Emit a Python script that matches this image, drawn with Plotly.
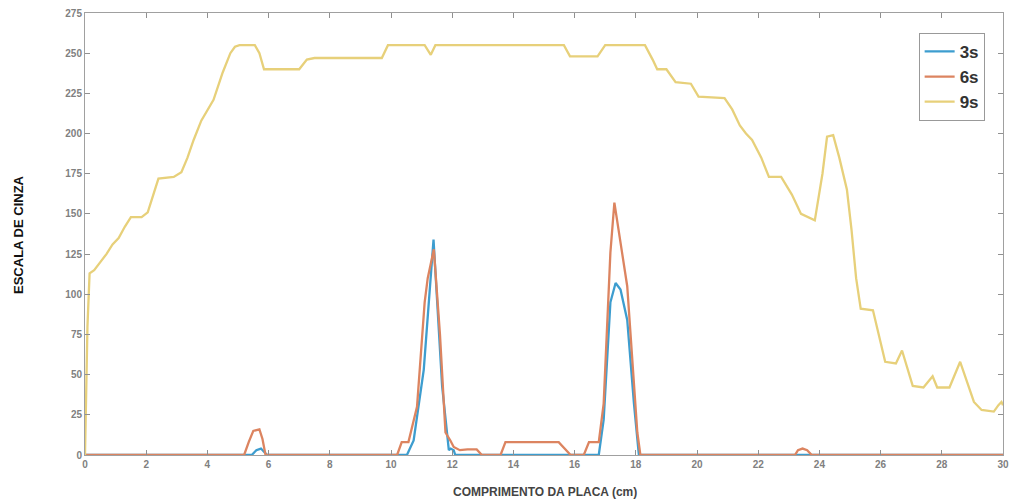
import plotly.graph_objects as go

# ---- data ----
x_3s = [0, 5.45, 5.6, 5.75, 5.85, 5.95, 10.52, 10.74, 11.07, 11.23, 11.39, 11.67, 11.89, 11.95, 12.05, 12.1,
        16.79, 16.95, 17.17, 17.34, 17.5, 17.72, 17.94, 18.1, 30]
y_3s = [0, 0, 3, 4, 2, 0, 0, 9, 53, 95, 134, 43, 3, 4, 3, 0,
        0, 22, 95, 107, 103, 84, 32, 0, 0]

x_6s = [0, 5.2, 5.35, 5.5, 5.7, 5.8, 5.9, 10.2, 10.35, 10.57, 10.85, 11.1, 11.2, 11.4, 11.6, 11.78, 11.94,
        12.05, 12.25, 12.5, 12.8, 12.97, 13.58, 13.74, 15.48, 15.87, 16.3, 16.47, 16.79, 16.95, 17.17, 17.3,
        17.72, 18.05, 18.15, 23.2, 23.3, 23.45, 23.6, 23.75, 30]
y_6s = [0, 0, 8, 15, 16, 10, 0, 0, 8, 8, 30, 95, 110, 128, 75, 14, 9,
        5, 3, 3.5, 3.5, 0, 0, 8, 8, 0, 0, 8, 8, 32, 126, 157,
        105, 14, 0, 0, 3, 4, 3, 0, 0]

x_9s = [0, 0.08, 0.15, 0.3, 0.5, 0.7, 0.9, 1.1, 1.3, 1.5, 1.85, 2.05, 2.2, 2.4, 2.9, 3.15, 3.35, 3.55, 3.8,
        4.05, 4.2, 4.5, 4.75, 4.9, 5.05, 5.55, 5.7, 5.85, 7.0, 7.25, 7.5, 9.7, 9.9, 11.1, 11.3, 11.45,
        15.65, 15.85, 16.75, 17.0, 18.3, 18.55, 18.7, 19.0, 19.3, 19.8, 20.05, 20.9, 21.15, 21.4, 21.6,
        21.8, 22.1, 22.35, 22.75, 23.1, 23.4, 23.85, 24.1, 24.25, 24.45, 24.65, 24.9, 25.05, 25.2, 25.35,
        25.75, 26.15, 26.5, 26.7, 27.05, 27.4, 27.7, 27.85, 28.25, 28.6, 28.9, 29.05, 29.3, 29.7, 29.85,
        29.95, 30]
y_9s = [0, 80, 113, 115, 120, 125, 131, 135, 142, 148, 148, 151, 160, 172, 173, 176, 185, 196, 208,
        216, 221, 238, 250, 254, 255, 255, 250, 240, 240, 246, 247, 247, 255, 255, 249, 255,
        255, 248, 248, 255, 255, 246, 240, 240, 232, 231, 223, 222, 215, 205, 200,
        196, 185, 173, 173, 162, 150, 146, 175, 198, 199, 185, 165, 140, 110, 91,
        90, 58, 57, 65, 43, 42, 49, 42, 42, 58, 42, 33, 28, 27, 31,
        33, 31]

x_ticks = list(range(0, 31, 2))
y_ticks = list(range(0, 276, 25))

series = [("3s", x_3s, y_3s, "#3d9dcf"),
          ("6s", x_6s, y_6s, "#dc8460"),
          ("9s", x_9s, y_9s, "#e7d07a")]

fig = go.Figure()
for name, xs, ys, col in series:
    fig.add_trace(go.Scatter(x=xs, y=ys, mode="lines", name=name,
                             line=dict(color=col, width=2.3)))

axis_common = dict(showline=True, linecolor="#a0a0a0", linewidth=1, mirror="ticks",
                   ticks="inside", ticklen=5, tickcolor="#909090", showgrid=False, zeroline=False,
                   automargin=False, ticklabeloverflow="allow",
                   tickfont=dict(family="Liberation Sans", size=10, color="#808080", weight="bold"))

fig.update_xaxes(range=[0, 30], tickvals=x_ticks, **axis_common)
fig.update_yaxes(range=[0, 275], tickvals=y_ticks, **axis_common)

fig.update_layout(
    width=1011, height=502,
    margin=dict(l=85, r=8, t=13, b=47, autoexpand=False),
    paper_bgcolor="white", plot_bgcolor="white",
    legend=dict(x=0.98, y=0.955, xanchor="right", yanchor="top",
                bordercolor="#999999", borderwidth=1, bgcolor="white",
                font=dict(family="Liberation Sans", size=17, color="#333333", weight="bold"),
                tracegroupgap=0, itemwidth=30),
    annotations=[
        dict(text="COMPRIMENTO DA PLACA (cm)", xref="paper", yref="paper", x=0.501, y=0,
             yshift=-37, xanchor="center", yanchor="middle", showarrow=False,
             font=dict(family="Liberation Sans", size=12, color="#444444", weight="bold")),
        dict(text="ESCALA DE CINZA", xref="paper", yref="paper", x=-0.073, y=0.5,
             xanchor="center", yanchor="middle", showarrow=False, textangle=-90,
             font=dict(family="Liberation Sans", size=13, color="#111111", weight="bold")),
    ],
)

fig.write_html("out.html", config={"displayModeBar": False},
               post_script="document.body.style.margin='0';document.body.style.overflow='hidden';")
